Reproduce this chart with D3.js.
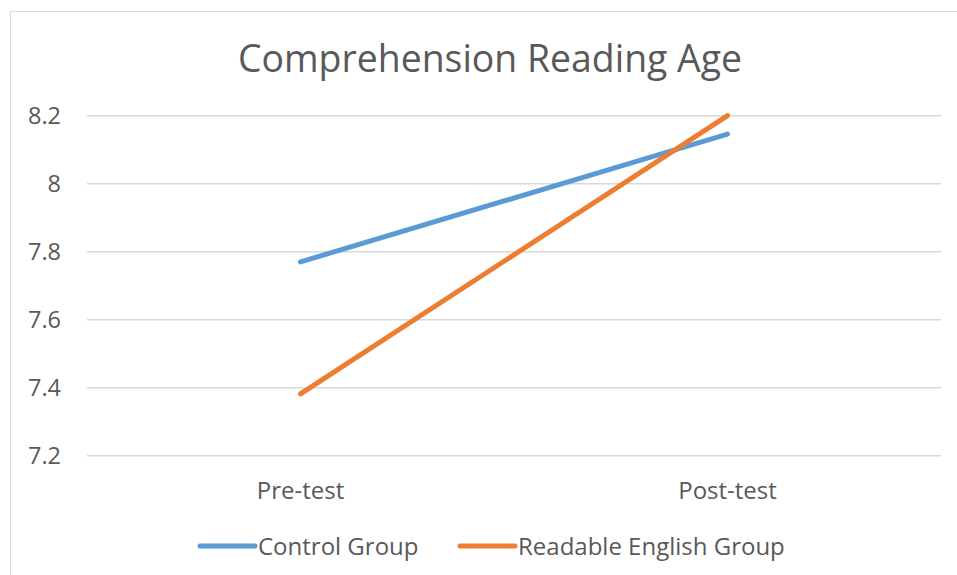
<!DOCTYPE html>
<html>
<head>
<meta charset="utf-8">
<script src="https://cdn.jsdelivr.net/npm/d3@7"></script>
<style>
  body { margin: 0; background: #fff; }
  text { font-family: "Open Sans", sans-serif; fill: #595959; }
</style>
</head>
<body>
<svg width="957" height="575"></svg>
<script>
const categories = ["Pre-test", "Post-test"];
const seriesNames = ["Control Group", "Readable English Group"];
const controlValues = [7.77, 8.146];
const readableValues = [7.382, 8.2];
const yTicks = [7.2, 7.4, 7.6, 7.8, 8, 8.2];
const colors = ["#5B9BD5", "#ED7D31"];

const series = [
  { name: seriesNames[0], values: controlValues, color: colors[0] },
  { name: seriesNames[1], values: readableValues, color: colors[1] }
];

const svg = d3.select("svg");

// chart border
svg.append("rect")
  .attr("x", 10.5).attr("y", 11.5)
  .attr("width", 960).attr("height", 600)
  .attr("fill", "#fff")
  .attr("stroke", "#d9d9d9")
  .attr("stroke-width", 1);

const plotLeft = 87, plotRight = 941, plotTop = 115.7, plotBottom = 455.7;

const x = d3.scalePoint()
  .domain(categories)
  .range([plotLeft, plotRight])
  .padding(0.5);

const y = d3.scaleLinear()
  .domain([7.2, 8.2])
  .range([plotBottom, plotTop]);

// gridlines
svg.append("g")
  .selectAll("line")
  .data(yTicks)
  .enter()
  .append("line")
  .attr("x1", plotLeft)
  .attr("x2", plotRight)
  .attr("y1", d => y(d))
  .attr("y2", d => y(d))
  .attr("stroke", "#d9d9d9")
  .attr("stroke-width", 1.5);

// y labels
svg.append("g")
  .selectAll("text")
  .data(yTicks)
  .enter()
  .append("text")
  .attr("x", 61)
  .attr("y", d => y(d) + 8)
  .attr("text-anchor", "end")
  .style("font-size", "23.5px")
  .text(d => d);

// x labels
svg.append("g")
  .selectAll("text")
  .data(categories)
  .enter()
  .append("text")
  .attr("x", d => x(d))
  .attr("y", 499)
  .attr("text-anchor", "middle")
  .style("font-size", "24px")
  .text(d => d);

// title
svg.append("text")
  .attr("x", 490)
  .attr("y", 72)
  .attr("text-anchor", "middle")
  .style("font-size", "37.4px")
  .text("Comprehension Reading Age");

// lines
const line = d3.line()
  .x((d, i) => x(categories[i]))
  .y(d => y(d));

svg.append("g")
  .selectAll("path")
  .data(series)
  .enter()
  .append("path")
  .attr("d", d => line(d.values))
  .attr("fill", "none")
  .attr("stroke", d => d.color)
  .attr("stroke-width", 5)
  .attr("stroke-linecap", "round");

// legend
const legendX = [200, 460];
const leg = svg.append("g")
  .selectAll("g")
  .data(series)
  .enter()
  .append("g")
  .attr("transform", (d, i) => `translate(${legendX[i]},546)`);

leg.append("line")
  .attr("x1", 0).attr("x2", 55)
  .attr("y1", 0).attr("y2", 0)
  .attr("stroke", d => d.color)
  .attr("stroke-width", 5)
  .attr("stroke-linecap", "round");

leg.append("text")
  .attr("x", 58)
  .attr("y", 8.5)
  .style("font-size", "24px")
  .text(d => d.name);
</script>
</body>
</html>
